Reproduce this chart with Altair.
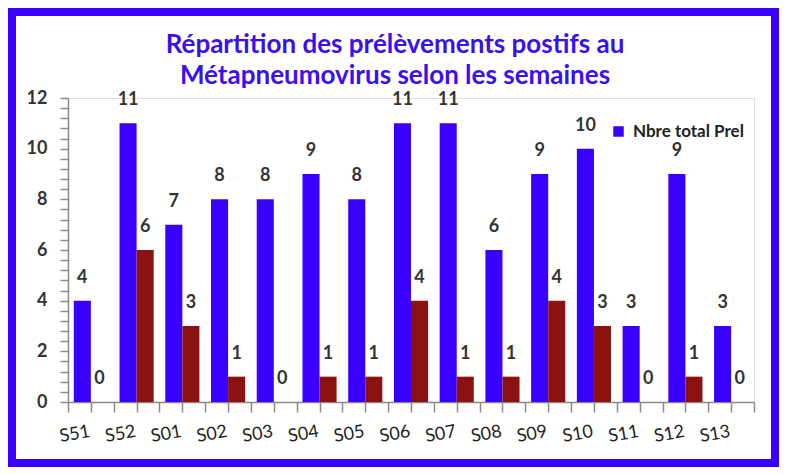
import altair as alt
import pandas as pd

weeks = ["S51", "S52", "S01", "S02", "S03", "S04", "S05", "S06", "S07", "S08", "S09", "S10", "S11", "S12", "S13"]
total_prel = [4, 11, 7, 8, 8, 9, 8, 11, 11, 6, 9, 10, 3, 9, 3]
positifs = [0, 6, 3, 1, 0, 1, 1, 4, 1, 1, 4, 3, 0, 1, 0]
series = ["Nbre total Prel", "Nbre positifs"]
colors = ["#3A00FF", "#8C1212"]
y_tick_values = [round(i * 0.4, 1) for i in range(31)]
x_tick_values = list(range(31))

rows = []
for w, t, p in zip(weeks, total_prel, positifs):
    rows.append({"week": w, "series": series[0], "value": t})
    rows.append({"week": w, "series": series[1], "value": p})
df = pd.DataFrame(rows)

FONT = "Lato"
W, H = 686, 304
PAD_L, PAD_T, PAD_R, PAD_B = 60, 90, 25, 65
TOTAL_W = PAD_L + W + PAD_R
TOTAL_H = PAD_T + H + PAD_B

x_axis = alt.Axis(
    ticks=False, domainColor="#8a8a8a", domainWidth=1.5,
    labelAngle=-10, labelAlign="center", labelBaseline="middle",
    labelPadding=32, labelOffset=-16, labelFont=FONT, labelFontSize=18,
    labelColor="#222222", grid=False, labelOverlap=False,
)
y_axis = alt.Axis(
    values=y_tick_values, tickCount=50,
    labelExpr="abs(datum.value - round(datum.value)) < 0.01 && round(datum.value) % 2 == 0 ? format(round(datum.value), 'd') : ''",
    labelOverlap=False,
    tickSize=8, tickColor="#8a8a8a", tickWidth=1.5, domainColor="#8a8a8a", domainWidth=1.5,
    labelPadding=13, labelFont=FONT, labelFontSize=18, labelFontWeight="bold",
    labelColor="#333333", grid=False,
)
x_scale = alt.Scale(paddingInner=0, paddingOuter=0)
y_scale = alt.Scale(domain=[0, 12], nice=False)
xoff_enc = alt.XOffset("series:N", sort=series, scale=alt.Scale(paddingInner=0, paddingOuter=0.34))

bars = alt.Chart(df).mark_bar().encode(
    x=alt.X("week:N", sort=weeks, title=None, scale=x_scale, axis=x_axis),
    xOffset=xoff_enc,
    y=alt.Y("value:Q", title=None, scale=y_scale, axis=y_axis),
    color=alt.Color(
        "series:N",
        scale=alt.Scale(domain=series, range=colors),
        legend=alt.Legend(
            values=[series[0]], title=None, orient="none", legendX=542, legendY=25,
            symbolType="square", symbolSize=110, symbolStrokeWidth=0, labelOffset=6,
            labelFont=FONT, labelFontSize=17, labelFontWeight="bold", labelColor="#222222",
        ),
    ),
)

labels = alt.Chart(df).mark_text(
    baseline="middle", dy=-23, font=FONT, fontSize=18, fontWeight="bold", color="#333333"
).encode(
    x=alt.X("week:N", sort=weeks, title=None, scale=x_scale, axis=x_axis),
    xOffset=xoff_enc,
    y=alt.Y("value:Q", title=None, scale=y_scale, axis=y_axis),
    text=alt.Text("value:Q"),
)

main = alt.layer(bars, labels)

ticks = alt.Chart(df).mark_point(opacity=0).encode(
    x=alt.X(
        datum=0, type="quantitative",
        scale=alt.Scale(domain=[0, 30], nice=False, zero=False),
        axis=alt.Axis(
            orient="bottom", values=x_tick_values, tickCount=50, labels=False, domain=False,
            labelOverlap=False,
            tickSize=10, tickColor="#8a8a8a", tickWidth=1.5, grid=False, title=None,
        ),
    ),
    y=alt.value(0),
)

frame = alt.Chart(df).mark_rect(
    fill=None, stroke="#3A00FF", strokeWidth=8
).encode(
    x=alt.value(-PAD_L + 4), x2=alt.value(TOTAL_W - PAD_L - 4),
    y=alt.value(-PAD_T + 4), y2=alt.value(TOTAL_H - PAD_T - 4),
)

chart = alt.layer(main, ticks, frame).resolve_scale(x="independent").resolve_axis(x="independent").properties(
    width=W, height=H,
    padding={"left": PAD_L, "top": PAD_T, "right": PAD_R, "bottom": PAD_B},
    autosize=alt.AutoSizeParams(type="none"),
    title=alt.TitleParams(
        text=["Répartition des prélèvements postifs au", "Métapneumovirus selon les semaines"],
        color="#3A10F0", font=FONT, fontSize=26, fontWeight="bold",
        anchor="middle", dx=-16, dy=91, offset=10, lineHeight=31,
    ),
).configure_view(stroke=None).configure(background="white")

chart.save("out.html", embed_options={"renderer": "svg", "actions": False})
